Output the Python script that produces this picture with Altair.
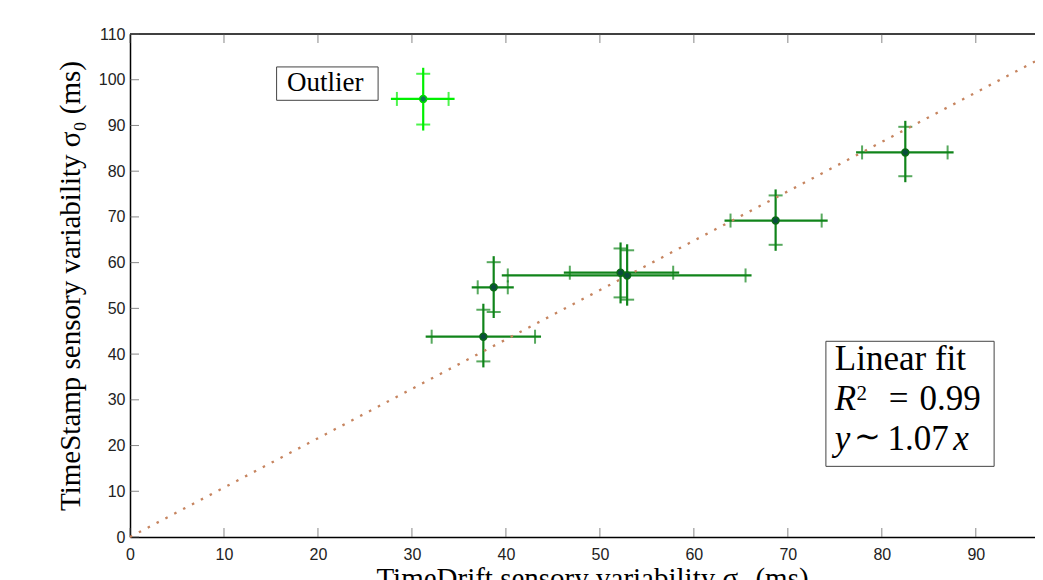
import altair as alt
import pandas as pd

# ---- data ----
pt_x = [37.6, 38.7, 52.2, 52.9, 68.7, 82.5, 31.2]
pt_y = [43.8, 54.6, 57.8, 57.2, 69.2, 84.1, 95.8]
pt_xlo = [32.1, 37.0, 46.8, 40.2, 63.9, 77.9, 28.4]
pt_xhi = [43.1, 40.2, 57.8, 65.5, 73.6, 87.0, 33.9]
pt_ylo = [38.4, 49.2, 52.4, 51.9, 63.9, 78.9, 90.2]
pt_yhi = [49.7, 60.1, 63.1, 62.7, 74.7, 89.7, 101.3]
pt_group = ["main", "main", "main", "main", "main", "main", "outlier"]

fit_x = [0.0, 96.3]
fit_y = [0.0, 104.0]

x_ticks = [0, 10, 20, 30, 40, 50, 60, 70, 80, 90]
y_ticks = [0, 10, 20, 30, 40, 50, 60, 70, 80, 90, 100, 110]
x_max = 96.3
y_max = 110

# annotation boxes
box_x = [15.6, 74.05]
box_x2 = [26.4, 91.95]
box_y = [102.8, 42.8]
box_y2 = [95.5, 15.45]

# annotation text pieces
reg_text = ["Outlier", "Linear fit", "2", "0.99", "1.07"]
reg_x = [16.7, 75.0, 77.3, 84.0, 80.6]
reg_y = [97.5, 36.6, 29.9, 27.7, 19.1]
reg_size = [27, 35, 21, 35, 35]

ctr_text = ["=", "∼"]
ctr_x = [81.8, 78.5]
ctr_y = [27.7, 19.6]
ctr_size = [35, 32]

ita_text = ["R", "y", "x"]
ita_x = [75.0, 75.0, 87.6]
ita_y = [27.7, 19.1, 19.1]
ita_size = [35, 35, 35]

pts = pd.DataFrame({"x": pt_x, "y": pt_y, "xlo": pt_xlo, "xhi": pt_xhi,
                    "ylo": pt_ylo, "yhi": pt_yhi, "group": pt_group})
fit = pd.DataFrame({"x": fit_x, "y": fit_y})
boxes = pd.DataFrame({"x": box_x, "x2": box_x2, "y": box_y, "y2": box_y2})
reg = pd.DataFrame({"t": reg_text, "x": reg_x, "y": reg_y, "s": reg_size})
ctr = pd.DataFrame({"t": ctr_text, "x": ctr_x, "y": ctr_y, "s": ctr_size})
ita = pd.DataFrame({"t": ita_text, "x": ita_x, "y": ita_y, "s": ita_size})
xt = pd.DataFrame({"x": x_ticks})
yt = pd.DataFrame({"y": y_ticks})
top = pd.DataFrame({"x": [0.0], "x2": [x_max], "y": [y_max]})

xscale = alt.Scale(domain=[0, x_max], nice=False, zero=False)
yscale = alt.Scale(domain=[0, y_max], nice=False, zero=False)

xaxis = alt.Axis(values=x_ticks, title="TimeDrift sensory variability σ₀ (ms)",
                 ticks=False, grid=False, domainColor="black", domainWidth=1.5,
                 labelFont="Liberation Sans", labelFontSize=16, labelColor="#222222",
                 labelPadding=9, labelFlush=False,
                 titleFont="Liberation Serif", titleFontSize=29, titleFontWeight="normal",
                 titleColor="black", titlePadding=2, titleX=462)
yaxis = alt.Axis(values=y_ticks, title="TimeStamp sensory variability σ₀ (ms)",
                 ticks=False, grid=False, domainColor="black", domainWidth=1.5,
                 labelFont="Liberation Sans", labelFontSize=16, labelColor="#222222",
                 labelPadding=5, labelFlush=False,
                 titleFont="Liberation Serif", titleFontSize=29, titleFontWeight="normal",
                 titleColor="black", titlePadding=13)


def X(f):
    return alt.X(f + ":Q", scale=xscale, axis=xaxis)


def Y(f):
    return alt.Y(f + ":Q", scale=yscale, axis=yaxis)


color = alt.Color("group:N", legend=None,
                  scale=alt.Scale(domain=["main", "outlier"],
                                  range=["#10841a", "#00f000"]))

frame_top = alt.Chart(top).mark_rule(color="black", strokeWidth=1.5).encode(
    x=X("x"), x2="x2:Q", y=Y("y"))
tick_b = alt.Chart(xt).mark_tick(orient="vertical", size=9, thickness=1, yOffset=-4.5,
                                 color="#555555").encode(x=X("x"), y=alt.datum(0))
tick_t = alt.Chart(xt).mark_tick(orient="vertical", size=9, thickness=1, yOffset=4.5,
                                 color="#555555").encode(x=X("x"), y=alt.datum(y_max))
tick_l = alt.Chart(yt).mark_tick(orient="horizontal", size=9, thickness=1, xOffset=4.5,
                                 color="#555555").encode(y=Y("y"), x=alt.datum(0))

base = alt.Chart(pts)
hbar = base.mark_rule(strokeWidth=2.2, xOffset=-6, x2Offset=6).encode(
    x=X("xlo"), x2="xhi:Q", y=Y("y"), color=color)
vbar = base.mark_rule(strokeWidth=2.2, yOffset=6, y2Offset=-6).encode(
    x=X("x"), y=Y("ylo"), y2="yhi:Q", color=color)
cap_xlo = base.mark_tick(orient="vertical", size=14, thickness=2).encode(
    x=X("xlo"), y=Y("y"), color=color)
cap_xhi = base.mark_tick(orient="vertical", size=14, thickness=2).encode(
    x=X("xhi"), y=Y("y"), color=color)
cap_ylo = base.mark_tick(orient="horizontal", size=14, thickness=2).encode(
    x=X("x"), y=Y("ylo"), color=color)
cap_yhi = base.mark_tick(orient="horizontal", size=14, thickness=2).encode(
    x=X("x"), y=Y("yhi"), color=color)
centers_main = base.transform_filter(alt.datum.group == "main").mark_circle(
    size=48, opacity=1, fill="#0b4d3e", stroke="#0a6a16", strokeWidth=1.5).encode(
    x=X("x"), y=Y("y"))
centers_out = base.transform_filter(alt.datum.group == "outlier").mark_circle(
    size=48, opacity=1, fill="#0b7a55", stroke="#00d800", strokeWidth=1.5).encode(
    x=X("x"), y=Y("y"))

fit_line = alt.Chart(fit).mark_line(color="#c6845f", strokeWidth=2.3,
                                    strokeDash=[2.5, 7.5]).encode(x=X("x"), y=Y("y"))

box_layer = alt.Chart(boxes).mark_rect(fill="white", stroke="#444444", strokeWidth=1).encode(
    x=X("x"), x2="x2:Q", y=Y("y"), y2="y2:Q")
reg_layer = alt.Chart(reg).mark_text(align="left", baseline="alphabetic",
                                     font="Liberation Serif", color="black").encode(
    x=X("x"), y=Y("y"), text="t:N", size=alt.Size("s:Q", scale=None))
ctr_layer = alt.Chart(ctr).mark_text(align="center", baseline="alphabetic",
                                     font="Liberation Serif", color="black").encode(
    x=X("x"), y=Y("y"), text="t:N", size=alt.Size("s:Q", scale=None))
ita_layer = alt.Chart(ita).mark_text(align="left", baseline="alphabetic",
                                     font="Liberation Serif", fontStyle="italic",
                                     color="black").encode(
    x=X("x"), y=Y("y"), text="t:N", size=alt.Size("s:Q", scale=None))

chart = alt.layer(
    frame_top, tick_b, tick_t, tick_l,
    hbar, vbar, cap_xlo, cap_xhi, cap_ylo, cap_yhi,
    fit_line, centers_main, centers_out,
    box_layer, reg_layer, ctr_layer, ita_layer,
).properties(
    width=905, height=503,
    autosize=alt.AutoSizeParams(type="none"),
    padding={"left": 122, "top": 26, "right": 0, "bottom": 50},
    background="white",
).configure_view(stroke=None)

chart.save("out.html", embed_options={"renderer": "svg", "actions": False})
